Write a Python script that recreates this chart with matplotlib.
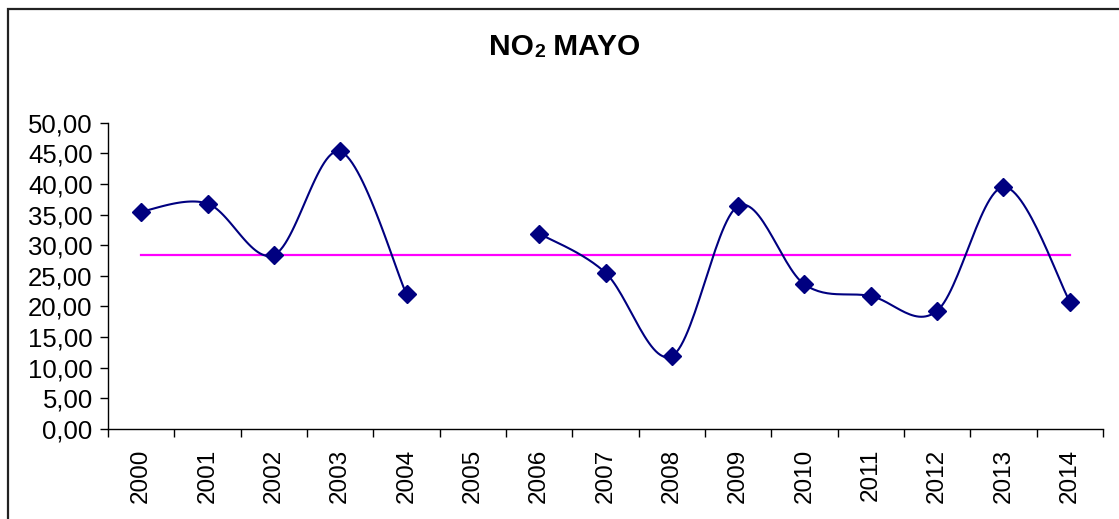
import numpy as np
import matplotlib
matplotlib.use("Agg")
import matplotlib.pyplot as plt
from matplotlib.patches import Rectangle

plt.rcParams['font.family'] = ['Liberation Sans', 'DejaVu Sans']

years = ['2000', '2001', '2002', '2003', '2004', '2005', '2006', '2007',
         '2008', '2009', '2010', '2011', '2012', '2013', '2014']
no2 = [35.5, 36.8, 28.4, 45.3, 22.0, None, 31.9, 25.5,
       11.9, 36.4, 23.6, 21.7, 19.3, 39.5, 20.8]
average = 28.47
yticks = [0, 5, 10, 15, 20, 25, 30, 35, 40, 45, 50]


def smooth(xs, ys, n=30):
    xs = np.asarray(xs, float)
    ys = np.asarray(ys, float)
    px, py = [], []
    m = len(xs)
    for i in range(m - 1):
        x0, y0 = xs[max(i - 1, 0)], ys[max(i - 1, 0)]
        x1, y1 = xs[i], ys[i]
        x2, y2 = xs[i + 1], ys[i + 1]
        x3, y3 = xs[min(i + 2, m - 1)], ys[min(i + 2, m - 1)]
        c1x, c1y = x1 + (x2 - x0) / 6, y1 + (y2 - y0) / 6
        c2x, c2y = x2 - (x3 - x1) / 6, y2 - (y3 - y1) / 6
        t = np.linspace(0, 1, n)
        bx = (1 - t) ** 3 * x1 + 3 * (1 - t) ** 2 * t * c1x + 3 * (1 - t) * t ** 2 * c2x + t ** 3 * x2
        by = (1 - t) ** 3 * y1 + 3 * (1 - t) ** 2 * t * c1y + 3 * (1 - t) * t ** 2 * c2y + t ** 3 * y2
        px.extend(bx)
        py.extend(by)
    return px, py


fig = plt.figure(figsize=(11.19, 5.19), dpi=100)
ax = fig.add_axes([108 / 1119, 1 - 429 / 519, (1103 - 108) / 1119, (429 - 122.7) / 519])

# chart-area border
fig.patches.append(Rectangle((7.5 / 1119, -0.1), 1.2, 1 - 8.5 / 519 + 0.1,
                             transform=fig.transFigure, fill=False,
                             edgecolor='#222222', linewidth=1.6))

# contiguous segments
segs = []
cur = []
for i, v in enumerate(no2):
    if v is None:
        if cur:
            segs.append(cur)
        cur = []
    else:
        cur.append(i)
if cur:
    segs.append(cur)

for seg in segs:
    sx, sy = smooth(seg, [no2[i] for i in seg])
    ax.plot(sx, sy, color='#000080', lw=1.5, zorder=3)

xi = [i for i, v in enumerate(no2) if v is not None]
yv = [v for v in no2 if v is not None]
ax.plot(xi, yv, linestyle='none', marker='D', ms=9, color='#000080', zorder=4)

ax.plot([0, len(years) - 1], [average, average], color='#FF00FF', lw=1.6, zorder=2)

ax.set_xlim(-0.5, len(years) - 0.5)
ax.set_ylim(0, 50)
ax.set_yticks(yticks)
ax.set_yticklabels([f"{v:.2f}".replace('.', ',') for v in yticks], fontsize=18.5)
ax.set_xticks(np.arange(-0.5, len(years), 1.0))
ax.set_xticklabels([])
ax.set_xticks(np.arange(len(years)), minor=True)
ax.set_xticklabels(years, minor=True, rotation=90, fontsize=17.5)
ax.tick_params(axis='x', which='minor', length=0, pad=14)
ax.tick_params(axis='x', which='major', length=6, width=1)
ax.tick_params(axis='y', length=6, width=1, pad=5)
for s in ['top', 'right']:
    ax.spines[s].set_visible(False)
for s in ['left', 'bottom']:
    ax.spines[s].set_linewidth(1)

# title "NO2 MAYO" with small 2
t1 = fig.text(489 / 1119, 1 - 55 / 519, "NO", fontsize=21.5, fontweight='bold', ha='left', va='baseline')
t2 = ax.annotate("2", xy=(1, 0), xycoords=t1, xytext=(0.5, 0), textcoords='offset points',
                 fontsize=14, fontweight='bold', ha='left', va='bottom')
t3 = ax.annotate(" MAYO", xy=(1, 0), xycoords=t2, fontsize=21.5, fontweight='bold',
                 ha='left', va='bottom', annotation_clip=False)
t2.set_annotation_clip(False)

fig.savefig('out.png', dpi=100)
